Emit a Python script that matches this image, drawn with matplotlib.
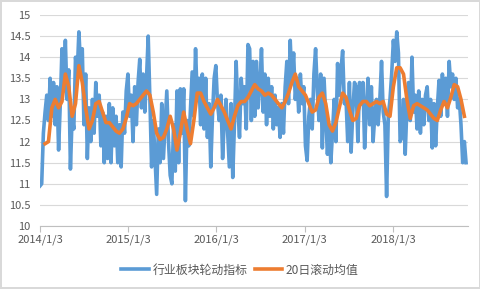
import pandas as pd
import matplotlib
matplotlib.use('Agg')
import matplotlib.pyplot as plt

plt.rcParams['font.family'] = ['Noto Sans CJK SC', 'DejaVu Sans']

# weekly readings of the rotation index, starting 2014/1/3
rotation = [
    # 2014
    10.95, 11.0, 12.2, 12.7, 13.1, 12.5, 13.5, 12.6, 13.4, 12.4,
    13.3, 11.8, 12.9, 14.2, 13.2, 14.4, 13.0, 13.7, 11.35, 12.6,
    12.3, 14.0, 13.6, 14.6, 13.8, 14.2, 12.4, 13.6, 11.6, 12.8,
    12.0, 13.0, 12.2, 13.4, 12.6, 13.1, 11.9, 12.7, 11.5, 12.6,
    11.6, 12.9, 11.5, 12.8, 11.9, 12.6, 11.5, 12.4, 11.4, 12.7,
    12.2, 13.2,
    # 2015
    13.6, 12.6, 13.1, 12.0, 13.3, 12.4, 13.4, 13.95, 12.8, 13.6,
    12.7, 13.5, 14.5, 13.0, 11.4, 12.5, 11.6, 10.75, 12.3, 11.5,
    12.9, 11.6, 12.4, 13.2, 12.0, 11.2, 11.0, 12.4, 11.3, 13.2,
    11.5, 13.25, 12.2, 13.25, 10.6, 12.5, 11.9, 12.8, 13.65, 12.6,
    14.2, 13.0, 13.5, 12.4, 13.6, 12.3, 13.5, 12.1, 12.9, 11.4,
    12.6, 13.5,
    # 2016
    13.8, 12.9, 12.5, 13.1, 11.6, 12.5, 13.0, 12.2, 11.4, 12.9,
    11.15, 12.4, 13.9, 12.8, 12.1, 13.5, 12.9, 13.3, 12.3, 14.3,
    14.2, 12.5, 13.9, 12.6, 13.9, 12.8, 13.3, 14.2, 12.7, 13.6,
    12.4, 13.5, 12.6, 13.3, 12.3, 13.1, 12.4, 12.8, 12.1, 12.9,
    12.2, 13.3, 13.9, 12.9, 14.4, 13.4, 14.1, 13.0, 13.5, 12.7,
    13.6, 12.9,
    # 2017
    13.3, 11.9, 11.55, 12.6, 13.0, 12.3, 13.6, 14.2, 13.2, 12.5,
    13.6, 11.85, 13.5, 12.6, 11.7, 12.4, 11.5, 12.2, 13.0, 12.0,
    13.85, 13.1, 13.7, 14.15, 12.9, 13.0, 12.0, 13.4, 11.75, 12.7,
    13.4, 13.3, 12.0, 13.4, 12.9, 13.4, 11.85, 12.8, 13.5, 12.4,
    13.3, 12.0, 12.6, 13.0, 12.4, 13.0, 13.9, 12.7, 12.4, 10.7,
    12.6, 13.0,
    # 2018
    13.6, 14.4, 13.9, 14.6, 14.1, 12.0, 12.1, 13.0, 11.7, 12.8,
    13.4, 12.5, 14.0, 12.7, 13.1, 12.3, 13.2, 12.2, 13.0, 12.4,
    13.1, 13.3, 12.5, 13.0, 11.85, 12.9, 11.9, 12.8, 13.45, 12.6,
    13.6, 12.9, 13.5, 12.6, 13.9, 13.3, 13.6, 13.0, 13.5, 12.8,
    13.0, 12.4, 11.5, 12.0, 11.5,
]

# 20-day rolling mean, read every two weeks from 2014/1/24
rolling = [
    11.95, 12.0, 12.8, 13.0, 12.8, 12.95, 13.6, 13.3, 12.6, 12.9,
    13.8, 13.4, 12.8, 12.3, 12.5, 12.9, 12.95, 12.7, 12.45, 12.45,
    12.35, 12.25, 12.2, 12.3, 12.55, 12.9, 12.85, 12.9, 13.0, 13.1,
    13.2, 13.1, 12.7, 12.2, 12.05, 12.1, 12.3, 12.6, 12.3, 11.8,
    12.2, 12.7, 12.3, 11.95, 12.5, 13.15, 13.15, 12.95, 12.8, 12.65,
    12.8, 13.0, 12.85, 12.7, 12.5, 12.3, 12.6, 12.85, 12.95, 12.95,
    13.05, 13.2, 13.35, 13.25, 13.2, 13.1, 13.15, 13.1, 13.0, 12.9,
    12.8, 12.95, 13.15, 13.4, 13.6, 13.3, 13.2, 13.1, 12.9, 12.7,
    12.75, 13.05, 13.15, 12.9, 12.4, 12.25, 12.45, 12.8, 13.15, 13.05,
    12.75, 12.5, 12.55, 12.85, 12.95, 12.95, 12.85, 12.9, 12.95, 12.9,
    12.95, 12.65, 12.6, 13.3, 13.75, 13.75, 13.6, 13.0, 12.55, 12.85,
    12.9, 12.85, 12.8, 12.75, 12.65, 12.55, 12.5, 12.75, 12.95, 12.8,
    13.05, 13.35, 13.3, 13.0, 12.6,
]

tick_labels = ['2014/1/3', '2015/1/3', '2016/1/3', '2017/1/3', '2018/1/3']
series_names = ['行业板块轮动指标', '20日滚动均值']

rot_dates = pd.date_range('2014-01-03', periods=len(rotation), freq='7D')
roll_dates = pd.date_range('2014-01-24', periods=len(rolling), freq='14D')
tick_dates = pd.to_datetime(['2014-01-03', '2015-01-03', '2016-01-03',
                             '2017-01-03', '2018-01-03'])

fig = plt.figure(figsize=(4.81, 2.89), dpi=100)
fig.patch.set_edgecolor('#d9d9d9')
fig.patch.set_linewidth(1.5)
ax = fig.add_axes([40 / 481, 1 - 226 / 289, 428 / 481, 211 / 289])

ax.plot(rot_dates, rotation, color='#5B9BD5', lw=2.6, label=series_names[0],
        solid_joinstyle='round')
ax.plot(roll_dates, rolling, color='#ED7D31', lw=2.6, label=series_names[1],
        solid_joinstyle='round')

ax.set_ylim(10, 15)
ax.set_yticks([10 + 0.5 * i for i in range(11)])
ax.set_yticklabels(['10', '10.5', '11', '11.5', '12', '12.5', '13',
                    '13.5', '14', '14.5', '15'])
ax.set_xlim(rot_dates[0], rot_dates[-1] + pd.Timedelta(days=8))
ax.set_xticks(tick_dates)
ax.set_xticklabels(tick_labels)

ax.grid(axis='y', color='#d9d9d9', lw=0.8)
ax.set_axisbelow(True)
for s in ['top', 'right', 'left']:
    ax.spines[s].set_visible(False)
ax.spines['bottom'].set_color('#bfbfbf')
ax.tick_params(axis='y', length=0, labelsize=8, labelcolor='#595959', pad=7)
ax.tick_params(axis='x', length=4, color='#bfbfbf', labelsize=8,
               labelcolor='#595959', pad=2)

fig.legend(loc='center', bbox_to_anchor=(240 / 481, 1 - 270 / 289), ncol=2,
           frameon=False, fontsize=8.6, handlelength=2.3, columnspacing=0.6,
           handletextpad=0.3, labelcolor='#595959')

fig.savefig('out.png', dpi=100)
